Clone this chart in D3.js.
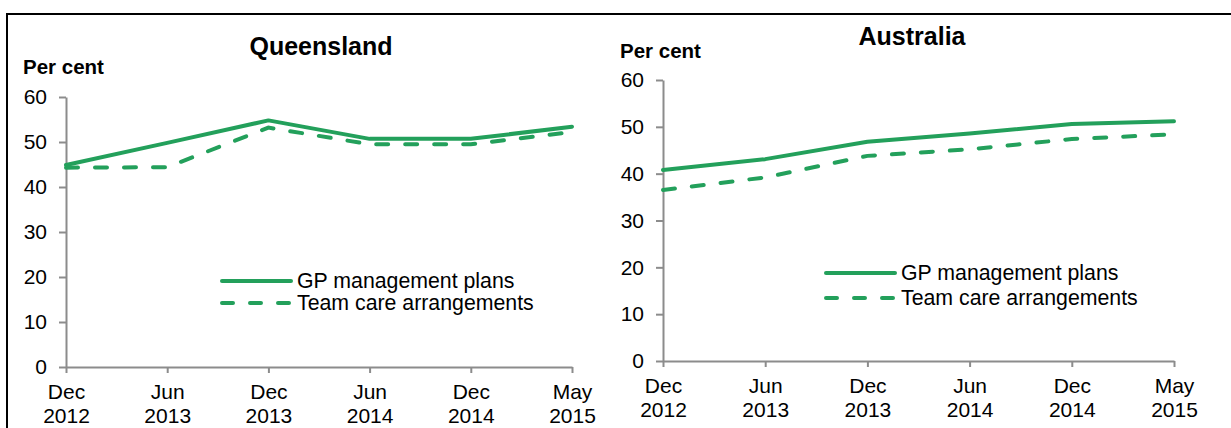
<!DOCTYPE html>
<html>
<head>
<meta charset="utf-8">
<script src="https://cdn.jsdelivr.net/npm/d3@7"></script>
<style>
  body { margin: 0; background: #fff; }
  svg { display: block; font-family: "Liberation Sans", Arial, sans-serif; }
</style>
</head>
<body>
<svg id="drawing_region"></svg>
<script>
const periods = ['Dec 2012', 'Jun 2013', 'Dec 2013', 'Jun 2014', 'Dec 2014', 'May 2015'];
const yTicks = [0, 10, 20, 30, 40, 50, 60];
const seriesNames = ['GP management plans', 'Team care arrangements'];

const qldGP  = [44.9, 49.8, 54.8, 50.7, 50.7, 53.4];
const qldTCA = [44.3, 44.4, 53.2, 49.5, 49.5, 52.2];
const ausGP  = [40.8, 43.1, 46.8, 48.6, 50.6, 51.2];
const ausTCA = [36.5, 39.2, 43.8, 45.2, 47.4, 48.4];

const green = '#23A05B';
const axisGrey = '#8c8c8c';

const svg = d3.select('#drawing_region')
    .attr('width', 1231)
    .attr('height', 428);

svg.append('rect')
    .attr('width', 1231).attr('height', 428)
    .attr('fill', '#fff');

// outer frame (top and left edges only visible)
svg.append('path')
    .attr('d', 'M7,428 V14 H1231')
    .attr('fill', 'none')
    .attr('stroke', '#000')
    .attr('stroke-width', 2);

function drawPanel(config) {
    const g = svg.append('g');

    const xscale = d3.scalePoint()
        .domain(periods)
        .range([config.x0, config.x1]);

    const yscale = d3.scaleLinear()
        .domain([0, 60])
        .range([config.y0, config.y1]);

    // y axis
    const yaxis = d3.axisLeft(yscale)
        .tickValues(yTicks)
        .tickSize(7)
        .tickPadding(12)
        .tickSizeOuter(0);

    const yg = g.append('g')
        .attr('transform', `translate(${config.x0},0)`)
        .call(yaxis);

    // x axis
    const xaxis = d3.axisBottom(xscale)
        .tickSize(6)
        .tickSizeOuter(0)
        .tickFormat('');

    const xg = g.append('g')
        .attr('transform', `translate(0,${config.y0})`)
        .call(xaxis);

    [yg, xg].forEach(a => {
        a.select('.domain').attr('stroke', axisGrey).attr('stroke-width', 2);
        a.selectAll('.tick line').attr('stroke', axisGrey).attr('stroke-width', 2);
    });
    yg.selectAll('.tick text')
        .attr('fill', '#000')
        .style('font-size', '21px');

    // two-line x tick labels
    xg.selectAll('.tick').each(function(d) {
        const parts = d.split(' ');
        const t = d3.select(this).append('text')
            .attr('fill', '#000')
            .attr('text-anchor', 'middle')
            .style('font-size', '21px');
        t.append('tspan').attr('x', 0).attr('y', 32).text(parts[0]);
        t.append('tspan').attr('x', 0).attr('y', 56).text(parts[1]);
    });

    // lines
    const line = d3.line()
        .x((d, i) => xscale(periods[i]))
        .y(d => yscale(d));

    g.append('path')
        .datum(config.gp)
        .attr('d', line)
        .attr('fill', 'none')
        .attr('stroke', green)
        .attr('stroke-width', 4)
        .attr('stroke-linejoin', 'round')
        .attr('stroke-linecap', 'round');

    g.append('path')
        .datum(config.tca)
        .attr('d', line)
        .attr('fill', 'none')
        .attr('stroke', green)
        .attr('stroke-width', 4)
        .attr('stroke-dasharray', '12,17')
        .attr('stroke-linecap', 'round');

    // titles
    g.append('text')
        .attr('x', config.titleX)
        .attr('y', config.titleY)
        .attr('text-anchor', 'middle')
        .style('font-size', '25px')
        .style('font-weight', 'bold')
        .text(config.title);

    g.append('text')
        .attr('x', config.unitX)
        .attr('y', config.unitY)
        .style('font-size', '20.5px')
        .style('font-weight', 'bold')
        .text('Per cent');

    // legend
    const lg = g.append('g')
        .attr('transform', `translate(${config.legX},${config.legY})`);

    seriesNames.forEach((name, i) => {
        const yy = i * config.legGap;
        lg.append('line')
            .attr('x1', 0).attr('x2', 69)
            .attr('y1', yy).attr('y2', yy)
            .attr('stroke', green)
            .attr('stroke-width', 4)
            .attr('stroke-linecap', 'round')
            .attr('stroke-dasharray', i === 1 ? '11,17' : null);
        lg.append('text')
            .attr('x', 75)
            .attr('y', yy + 7)
            .style('font-size', '21.3px')
            .text(name);
    });
}

drawPanel({
    title: 'Queensland',
    x0: 66, x1: 572, y0: 367, y1: 97,
    gp: qldGP, tca: qldTCA,
    titleX: 321, titleY: 55,
    unitX: 23, unitY: 74,
    legX: 222, legY: 281, legGap: 22
});

drawPanel({
    title: 'Australia',
    x0: 663, x1: 1174, y0: 361, y1: 80,
    gp: ausGP, tca: ausTCA,
    titleX: 912, titleY: 45,
    unitX: 620, unitY: 58,
    legX: 826, legY: 273, legGap: 25
});
</script>
</body>
</html>
